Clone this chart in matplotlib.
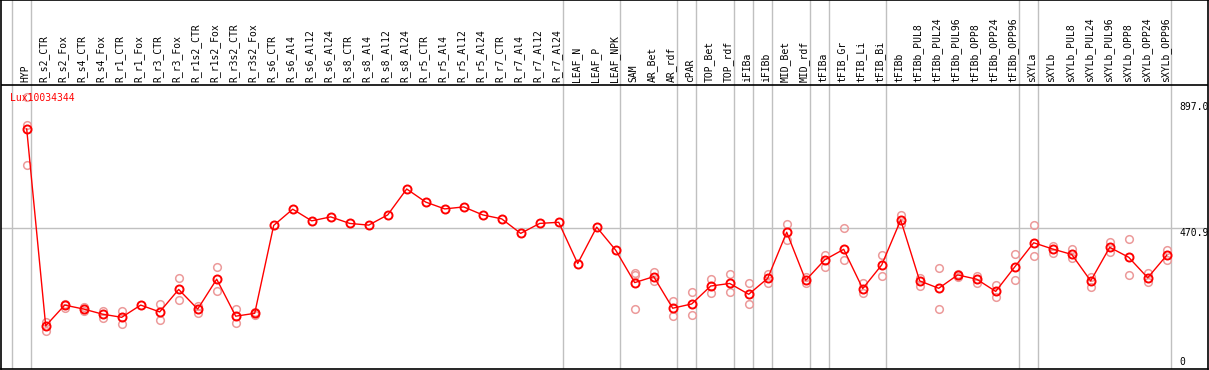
import numpy as np
import matplotlib
matplotlib.use("Agg")
import matplotlib.pyplot as plt

samples = ["HYP", "R_s2_CTR", "R_s2_Fox", "R_s4_CTR", "R_s4_Fox", "R_r1_CTR", "R_r1_Fox",
           "R_r3_CTR", "R_r3_Fox", "R_r1s2_CTR", "R_r1s2_Fox", "R_r3s2_CTR", "R_r3s2_Fox",
           "R_s6_CTR", "R_s6_Al4", "R_s6_Al12", "R_s6_Al24", "R_s8_CTR", "R_s8_Al4",
           "R_s8_Al12", "R_s8_Al24", "R_r5_CTR", "R_r5_Al4", "R_r5_Al12", "R_r5_Al24",
           "R_r7_CTR", "R_r7_Al4", "R_r7_Al12", "R_r7_Al24", "LEAF_N", "LEAF_P", "LEAF_NPK",
           "SAM", "AR_Bet", "AR_rdf", "cPAR", "TOP_Bet", "TOP_rdf", "iFIBa", "iFIBb",
           "MID_Bet", "MID_rdf", "tFIBa", "tFIB_Gr", "tFIB_Li", "tFIB_Bi", "tFIBb",
           "tFIBb_PUL8", "tFIBb_PUL24", "tFIBb_PUL96", "tFIBb_OPP8", "tFIBb_OPP24",
           "tFIBb_OPP96", "sXYLa", "sXYLb", "sXYLb_PUL8", "sXYLb_PUL24", "sXYLb_PUL96",
           "sXYLb_OPP8", "sXYLb_OPP24", "sXYLb_OPP96"]

means = [819, 127, 200, 186, 168, 157, 200, 176, 255, 186, 291, 161, 171,
         480, 537, 496, 510, 487, 481, 517, 608, 562, 538, 545, 517, 503, 452, 487, 491,
         346, 474, 393,
         279, 300, 189, 204, 267, 276, 238, 294, 456, 287, 359, 396, 258, 341, 499,
         285, 259, 306, 291, 248, 334, 419, 397, 378, 285, 403, 368, 296, 375]

# replicate measurements (empty where they sit under the mean)
reps = [[932, 834, 691], [142, 110], [205, 189], [194, 180], [180, 154], [179, 132], [],
        [204, 148], [294, 218], [198, 173], [333, 251], [186, 138], [164, 176],
        [], [], [], [], [], [], [], [], [], [], [], [], [], [], [], [],
        [], [], [],
        [314, 305, 185], [317, 285], [214, 163], [245, 164], [292, 241], [308, 245],
        [276, 203], [310, 279], [484, 429], [300, 276], [377, 333], [470, 359],
        [276, 244], [375, 302], [516, 484],
        [296, 268], [329, 185], [310, 300], [303, 276], [270, 230], [378, 289],
        [481, 374], [409, 382], [397, 364], [300, 265], [422, 386], [431, 305],
        [314, 282], [393, 359]]

# group separators sit just right of these samples
separators = [-1, 0, 28, 31, 34, 35, 37, 38, 39, 41, 42, 45, 52, 53, 60]

max_val = 897.0
mid_val = 470.9

W, H = 1209, 370
fig = plt.figure(figsize=(W / 100, H / 100), dpi=100)
ax = fig.add_axes([1 / W, 1 / H, 1207 / W, 369 / H])

px_per_unit = (362 - 228) / mid_val
ax.set_xlim((1 - 26.7) / 19, (1208 - 26.7) / 19)
ax.set_ylim((362 - 369) / px_per_unit, 362 / px_per_unit)
header_y = (362 - 85) / px_per_unit

x = np.arange(len(samples))
grid_c = "#c0c0c0"
for s in separators:
    ax.axvline(s + 4 / 19, color=grid_c, lw=1, zorder=1)
ax.axhline(mid_val, color=grid_c, lw=1, zorder=1)
ax.axhline(header_y, color="black", lw=1.2, zorder=2)

for i, r in enumerate(reps):
    if r:
        ax.plot([i] * len(r), r, "o", ms=5.5, mfc="none", mec="#ec9a9a", mew=1.1, zorder=3)

ax.plot(x, means, "-", color="red", lw=1, zorder=4)
ax.plot(x, means, "o", ms=5.8, mfc="none", mec="red", mew=1.4, zorder=5)

for i, name in enumerate(samples):
    ax.text(i - 0.08, header_y + 3 / px_per_unit, name, rotation=90, ha="center", va="bottom",
            family="DejaVu Sans Mono", fontsize=7, color="black")

ax.text(-0.9, header_y - 13 / px_per_unit, "Lux10034344", color="red",
        family="DejaVu Sans Mono", fontsize=7, va="center", ha="left")

label_x = (1179 - 26.7) / 19
ax.text(label_x, max_val, "897.0", family="DejaVu Sans Mono", fontsize=7, va="center", ha="left")
ax.text(label_x, mid_val, "470.9", family="DejaVu Sans Mono", fontsize=7, va="top", ha="left")
ax.text(label_x, 0, "0", family="DejaVu Sans Mono", fontsize=7, va="center", ha="left")

ax.set_xticks([])
ax.set_yticks([])
for sp in ax.spines.values():
    sp.set_color("black")
    sp.set_linewidth(1.2)

fig.savefig("out.png", dpi=100)
